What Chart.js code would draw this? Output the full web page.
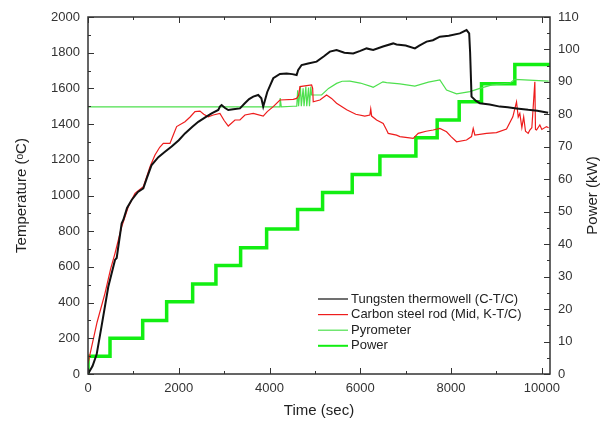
<!DOCTYPE html>
<html>
<head>
<meta charset="utf-8">
<script src="https://cdn.jsdelivr.net/npm/chart.js@4"></script>
<style>
  html, body { margin: 0; padding: 0; background: #fff; }
</style>
</head>
<body>
<canvas id="tempChart" width="605" height="421"></canvas>
<script>
// values
const tungstenTime = [0, 100, 191, 300, 447, 595, 632, 742, 778, 860, 962, 1100, 1219, 1300, 1402, 1550, 1696, 1843, 2000, 2137, 2300, 2430, 2600, 2724, 2871, 2907, 2944, 3020, 3091, 3200, 3348, 3450, 3550, 3641, 3751, 3820, 3861, 3950, 4082, 4229, 4376, 4500, 4597, 4632, 4707, 4850, 5037, 5200, 5330, 5477, 5650, 5844, 6000, 6138, 6284, 6500, 6725, 6799, 7000, 7203, 7300, 7460, 7600, 7753, 7950, 8194, 8341, 8399, 8420, 8451, 8550, 8634, 8850, 9075, 9250, 9442, 9700, 9900, 10139];
const tungstenTemp = [0, 45, 110, 270, 489, 639, 650, 844, 863, 930, 975, 1020, 1040, 1100, 1171, 1215, 1245, 1274, 1310, 1348, 1385, 1413, 1440, 1460, 1479, 1498, 1507, 1490, 1479, 1483, 1488, 1515, 1540, 1554, 1563, 1545, 1498, 1580, 1657, 1681, 1684, 1680, 1675, 1703, 1731, 1740, 1750, 1780, 1806, 1815, 1800, 1796, 1810, 1824, 1815, 1835, 1852, 1846, 1840, 1824, 1840, 1862, 1870, 1890, 1895, 1908, 1927, 1908, 1800, 1554, 1530, 1517, 1510, 1498, 1495, 1488, 1480, 1475, 1464];

const rodTime = [0, 81, 200, 374, 500, 595, 742, 888, 1035, 1120, 1219, 1300, 1366, 1476, 1580, 1659, 1806, 1879, 1953, 2137, 2250, 2357, 2467, 2550, 2650, 2760, 2907, 3000, 3091, 3238, 3348, 3458, 3641, 3861, 3950, 4082, 4229, 4523, 4597, 4640, 4670, 4927, 4950, 4963, 5110, 5257, 5367, 5477, 5700, 5900, 6100, 6211, 6230, 6250, 6359, 6505, 6579, 6615, 6799, 6872, 7166, 7276, 7450, 7606, 7753, 7900, 8000, 8121, 8341, 8451, 8488, 8524, 8782, 9000, 9222, 9361, 9442, 9480, 9515, 9560, 9600, 9640, 9699, 9736, 9780, 9846, 9860, 9883, 9956, 10000, 10103, 10150];
const rodTemp = [60, 153, 290, 452, 590, 676, 825, 937, 1012, 1030, 1049, 1110, 1161, 1227, 1270, 1292, 1292, 1339, 1386, 1413, 1440, 1470, 1473, 1455, 1441, 1451, 1460, 1420, 1389, 1423, 1423, 1451, 1460, 1445, 1470, 1498, 1535, 1539, 1544, 1560, 1610, 1619, 1600, 1525, 1535, 1563, 1544, 1517, 1480, 1455, 1445, 1451, 1485, 1445, 1423, 1404, 1367, 1348, 1338, 1330, 1320, 1348, 1360, 1367, 1376, 1357, 1330, 1301, 1311, 1330, 1376, 1339, 1348, 1352, 1372, 1441, 1525, 1440, 1460, 1380, 1440, 1360, 1348, 1367, 1380, 1637, 1370, 1367, 1395, 1370, 1386, 1380];

const pyroTime = [0, 4229, 4235, 4260, 4523, 4600, 4620, 4640, 4680, 4700, 4740, 4760, 4800, 4820, 4860, 4880, 4910, 4927, 5147, 5300, 5478, 5600, 5771, 6000, 6249, 6284, 6498, 6579, 6872, 7203, 7500, 7753, 7900, 8121, 8414, 8634, 8900, 9300, 9405, 10150];
const pyroTemp = [1496, 1496, 1546, 1496, 1500, 1500, 1590, 1500, 1610, 1500, 1600, 1500, 1610, 1500, 1605, 1500, 1610, 1563, 1563, 1600, 1628, 1640, 1641, 1630, 1610, 1606, 1637, 1632, 1625, 1613, 1635, 1647, 1591, 1569, 1582, 1600, 1620, 1630, 1651, 1641];

const powerTime = [0, 0, 485, 1205, 1733, 2306, 2819, 3363, 3936, 4618, 5169, 5822, 6432, 7225, 7694, 8179, 8671, 9405, 10180];
const powerKw = [0, 5.5, 11.0, 16.5, 22.3, 27.7, 33.4, 38.9, 44.7, 50.7, 55.9, 61.5, 67.2, 72.8, 78.3, 83.9, 89.4, 95.4, 95.4];

const timeTicks = [0, 2000, 4000, 6000, 8000, 10000];
const tempTicks = [0, 200, 400, 600, 800, 1000, 1200, 1400, 1600, 1800, 2000];
const powerTicks = [0, 10, 20, 30, 40, 50, 60, 70, 80, 90, 100, 110];

const seriesNames = ['Tungsten thermowell (C-T/C)', 'Carbon steel rod (Mid, K-T/C)', 'Pyrometer', 'Power'];

const toPoints = (xs, ys) => xs.map((x, i) => ({ x: x, y: ys[i] }));
const FONT = 'Liberation Sans, Arial, sans-serif';

// inward tick marks (major + minor) and the frame round the plot
const frameTicks = {
    id: 'frameTicks',
    afterDatasetsDraw(chart) {
        const { ctx, chartArea: a, scales } = chart;
        ctx.save();
        ctx.strokeStyle = '#333';
        ctx.lineWidth = 1;
        ctx.beginPath();
        const step = (arr) => arr[1] - arr[0];
        const sx = step(timeTicks) / 2;
        for (let v = 0; v <= timeTicks[timeTicks.length - 1]; v += sx) {
            const px = Math.round(scales.x.getPixelForValue(v)) + 0.5;
            const len = v % step(timeTicks) === 0 ? 6 : 3;
            ctx.moveTo(px, a.bottom); ctx.lineTo(px, a.bottom - len);
            ctx.moveTo(px, a.top); ctx.lineTo(px, a.top + len);
        }
        const sy = step(tempTicks) / 2;
        for (let v = 0; v <= tempTicks[tempTicks.length - 1]; v += sy) {
            const py = Math.round(scales.y.getPixelForValue(v)) + 0.5;
            const len = v % step(tempTicks) === 0 ? 6 : 3;
            ctx.moveTo(a.left, py); ctx.lineTo(a.left + len, py);
        }
        const sp = step(powerTicks) / 2;
        for (let v = 0; v <= powerTicks[powerTicks.length - 1]; v += sp) {
            const py = Math.round(scales.y1.getPixelForValue(v)) + 0.5;
            const len = v % step(powerTicks) === 0 ? 6 : 3;
            ctx.moveTo(a.right, py); ctx.lineTo(a.right - len, py);
        }
        ctx.stroke();
        ctx.lineWidth = 1.5;
        ctx.strokeStyle = '#333';
        ctx.strokeRect(a.left, a.top, a.right - a.left, a.bottom - a.top);
        ctx.restore();
    }
};

// legend inside the plot (lower right) and the right axis title read bottom-to-top
const innerLegend = {
    id: 'innerLegend',
    afterDraw(chart) {
        const { ctx, chartArea: a } = chart;
        const x0 = a.right - 232;
        let y = a.bottom - 75;
        ctx.save();
        ctx.font = '13px ' + FONT;
        ctx.textBaseline = 'middle';
        chart.data.datasets.forEach(ds => {
            ctx.strokeStyle = ds.borderColor;
            ctx.lineWidth = ds.label === 'Power' ? 2 : 1.2;
            ctx.beginPath();
            ctx.moveTo(x0, y); ctx.lineTo(x0 + 30, y);
            ctx.stroke();
            ctx.fillStyle = '#222';
            ctx.fillText(ds.label, x0 + 33, y);
            y += 15.6;
        });
        ctx.translate(chart.width - 12, (a.top + a.bottom) / 2);
        ctx.rotate(-Math.PI / 2);
        ctx.textAlign = 'center';
        ctx.font = '15px ' + FONT;
        ctx.fillText('Power (kW)', 0, 0);
        ctx.restore();
    }
};

const ctx = document.getElementById('tempChart').getContext('2d');
const plainTick = { padding: 8, color: '#333', font: { family: FONT, size: 13 }, callback: v => String(v) };
const tempChart = new Chart(ctx, {
    type: 'line',
    data: {
        datasets: [
            {
                label: seriesNames[0],
                data: toPoints(tungstenTime, tungstenTemp),
                borderColor: '#111111',
                borderWidth: 2,
                yAxisID: 'y',
            },
            {
                label: seriesNames[1],
                data: toPoints(rodTime, rodTemp),
                borderColor: '#ee1c1c',
                borderWidth: 1.2,
                yAxisID: 'y',
            },
            {
                label: seriesNames[2],
                data: toPoints(pyroTime, pyroTemp),
                borderColor: '#4ee04e',
                borderWidth: 1.2,
                yAxisID: 'y',
            },
            {
                label: seriesNames[3],
                data: toPoints(powerTime, powerKw),
                borderColor: '#12ee12',
                borderWidth: 3.5,
                stepped: 'before',
                yAxisID: 'y1',
            },
        ],
    },
    options: {
        responsive: false,
        animation: false,
        layout: { padding: { top: 17, left: 0, right: 0, bottom: 0 } },
        elements: { point: { radius: 0 }, line: { tension: 0, fill: false } },
        plugins: { legend: { display: false }, tooltip: { enabled: false } },
        scales: {
            x: {
                type: 'linear',
                min: 0,
                max: 10180,
                afterBuildTicks: s => { s.ticks = timeTicks.map(v => ({ value: v })); },
                afterFit: s => { s.height = 47; },
                grid: { drawOnChartArea: false, drawTicks: false },
                border: { display: false },
                ticks: { ...plainTick, padding: 7 },
                title: {
                    display: true,
                    text: 'Time (sec)',
                    color: '#222',
                    padding: { top: 0, bottom: 1 },
                    font: { family: FONT, size: 15 },
                },
            },
            y: {
                position: 'left',
                min: 0,
                max: 2000,
                afterBuildTicks: s => { s.ticks = tempTicks.map(v => ({ value: v })); },
                afterFit: s => { s.width = 88; },
                grid: { drawOnChartArea: false, drawTicks: false },
                border: { display: false },
                ticks: plainTick,
                title: {
                    display: true,
                    text: 'Temperature (ᵒC)',
                    color: '#222',
                    padding: { top: 13, bottom: 0 },
                    font: { family: FONT, size: 15 },
                },
            },
            y1: {
                position: 'right',
                min: 0,
                max: 110,
                afterBuildTicks: s => { s.ticks = powerTicks.map(v => ({ value: v })); },
                afterFit: s => { s.width = 55; },
                grid: { drawOnChartArea: false, drawTicks: false },
                border: { display: false },
                ticks: plainTick,
                title: { display: false },
            },
        },
    },
    plugins: [frameTicks, innerLegend],
});
</script>
</body>
</html>
